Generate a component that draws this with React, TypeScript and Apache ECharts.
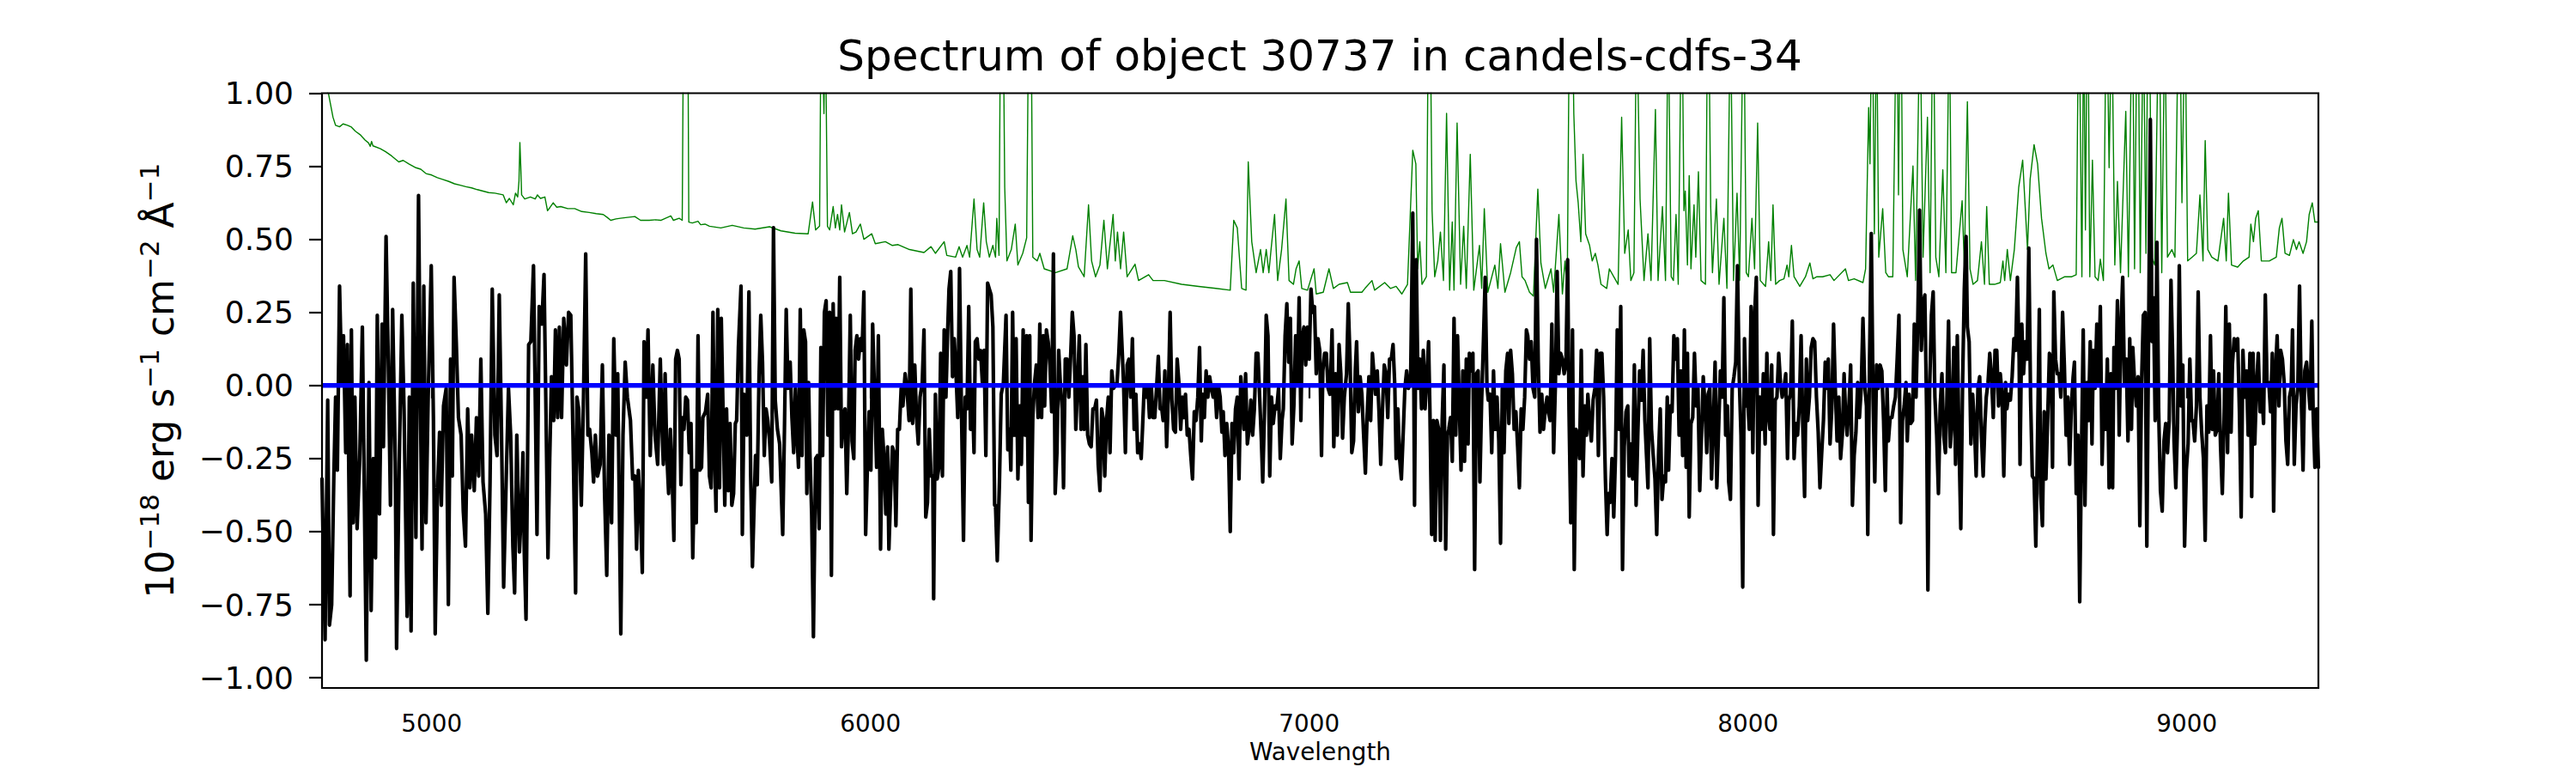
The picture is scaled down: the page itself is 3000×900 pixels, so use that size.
import React, { useEffect, useRef } from "react";
import * as echarts from "echarts";

const TITLE = "Spectrum of object 30737 in candels-cdfs-34";
const X_NAME = "Wavelength";
const X_MIN = 4750;
const X_MAX = 9300;
const Y_MIN = -1.035;
const Y_MAX = 1.0;
const xTicks = [5000, 6000, 7000, 8000, 9000];
const yTicks = [-1, -0.75, -0.5, -0.25, 0, 0.25, 0.5, 0.75, 1];

// Observed flux (black), [wavelength, flux]
const fluxA = [[4750,-0.32],[4757,-0.87],[4763,-0.05],[4767,-0.82],[4772,-0.75],[4777,-0.31],[4781,-0.04],[4785,-0.29],[4790,0.34],[4795,0.01],[4799,0.17],[4804,-0.23],[4808,0.14],[4814,-0.72],[4817,0.19],[4821,-0.47],[4825,-0.04],[4830,-0.49],[4836,-0.25],[4842,0.20],[4847,-0.44],[4851,-0.94],[4857,0.01],[4862,-0.77],[4867,-0.25],[4872,-0.59],[4876,0.24],[4881,-0.44],[4887,0.21],[4890,-0.21],[4896,0.51],[4901,0.09],[4906,-0.41],[4911,0.26],[4917,-0.26],[4920,-0.90],[4926,-0.27],[4932,0.24],[4937,-0.08],[4944,-0.79],[4949,-0.04],[4953,-0.84],[4958,0.35],[4964,-0.52],[4970,0.65],[4975,-0.15],[4978,-0.56],[4982,0.34],[4987,-0.47],[4992,-0.04],[4999,0.41],[5004,-0.12],[5008,-0.85],[5013,-0.37],[5018,-0.16],[5022,-0.41],[5027,-0.07],[5033,-0.01],[5038,-0.75],[5043,0.09],[5047,-0.31],[5051,0.37],[5056,0.15],[5061,-0.11],[5067,-0.17],[5072,-0.43],[5077,-0.55],[5082,-0.08],[5087,-0.35],[5091,-0.17],[5097,-0.36],[5102,-0.11],[5107,-0.31],[5112,0.09],[5117,-0.33],[5123,-0.44],[5128,-0.78],[5133,-0.33],[5138,0.33],[5144,-0.17],[5149,-0.24],[5154,0.31],[5159,-0.15],[5164,-0.69],[5170,-0.31],[5175,-0.01],[5180,-0.17],[5185,-0.55],[5189,-0.71],[5194,-0.17],[5200,-0.57],[5204,-0.44],[5208,-0.23],[5211,-0.57],[5215,-0.80],[5221,0.14],[5226,0.15],[5232,0.41],[5236,-0.04],[5240,-0.51],[5245,0.27],[5251,0.21],[5256,0.38],[5260,-0.04],[5265,-0.59],[5269,-0.25],[5273,0.03],[5278,-0.12],[5282,0.19],[5287,-0.11],[5291,0.20],[5296,-0.11],[5301,0.23],[5307,0.07],[5312,0.25],[5317,0.24],[5322,-0.17],[5328,-0.71],[5331,-0.04],[5335,-0.08],[5341,-0.41],[5346,-0.04],[5351,0.45],[5356,-0.17],[5360,-0.15],[5365,-0.23],[5369,-0.33],[5373,-0.17],[5378,-0.31],[5384,-0.27],[5389,0.07],[5394,-0.37],[5399,-0.65],[5404,-0.17],[5410,-0.47],[5415,0.16],[5420,-0.17],[5424,0.04],[5431,-0.85],[5436,-0.17],[5441,0.08],[5446,-0.04],[5453,-0.12],[5458,-0.32],[5463,-0.31],[5467,-0.56],[5471,-0.29],[5476,-0.44],[5480,-0.64],[5484,0.15],[5489,-0.04],[5493,0.19],[5498,-0.24],[5504,0.07],[5509,-0.17],[5515,-0.27],[5521,0.09]];
const fluxB = [[5525,-0.15],[5528,-0.27],[5532,0.04],[5536,-0.24],[5540,-0.37],[5544,-0.15],[5548,-0.31],[5552,-0.53],[5556,0.09],[5560,0.12],[5564,0.09],[5568,-0.34],[5571,-0.11],[5575,-0.15],[5579,-0.04],[5583,-0.05],[5587,-0.23],[5591,-0.13],[5595,-0.59],[5599,-0.29],[5603,-0.47],[5607,0.17],[5611,-0.29],[5615,-0.28],[5618,-0.11],[5624,-0.09],[5629,-0.03],[5633,-0.31],[5637,-0.35],[5641,0.25],[5645,-0.25],[5648,-0.43],[5652,0.26],[5656,-0.35],[5660,0.23],[5664,-0.08],[5668,-0.41],[5672,-0.08],[5676,-0.36],[5680,-0.13],[5684,-0.41],[5688,-0.37],[5692,-0.13],[5695,-0.12],[5699,0.13],[5705,0.34],[5708,-0.51],[5712,-0.03],[5718,-0.17],[5723,0.32],[5727,-0.31],[5731,-0.62],[5735,-0.40],[5738,-0.24],[5742,-0.34],[5746,0.03],[5750,0.24],[5754,0.08],[5758,-0.24],[5762,-0.08],[5766,-0.12],[5770,-0.19],[5775,-0.33],[5779,0.54],[5783,-0.05],[5788,-0.15],[5793,-0.20],[5800,-0.51],[5804,-0.15],[5808,0.26],[5812,-0.01],[5817,0.08],[5821,-0.11],[5825,-0.23],[5829,-0.01],[5832,-0.15],[5836,-0.28],[5840,0.26],[5844,-0.24],[5848,0.19],[5852,0.15],[5855,-0.37],[5859,0.01],[5862,-0.23],[5866,-0.44],[5870,-0.86],[5875,-0.25],[5879,-0.24],[5883,-0.49],[5887,0.13],[5891,-0.24],[5895,0.25],[5899,0.29],[5903,-0.17],[5907,0.25],[5911,-0.65],[5915,0.28],[5919,-0.08],[5922,0.23],[5926,-0.08],[5930,0.37],[5934,-0.21],[5938,-0.11],[5942,-0.08],[5946,-0.37],[5950,-0.13],[5954,0.24],[5958,-0.19],[5962,-0.25],[5965,0.12],[5969,0.17],[5973,0.09],[5977,0.16],[5981,0.12],[5985,0.32],[5989,-0.51],[5993,-0.28],[5997,-0.09],[6001,-0.29],[6005,0.21],[6009,-0.01],[6014,-0.28],[6018,0.17],[6023,-0.56],[6027,-0.15],[6031,-0.25],[6035,-0.44],[6039,-0.21],[6042,-0.56],[6046,-0.37],[6050,-0.21],[6054,-0.23],[6058,-0.48],[6062,-0.15],[6066,-0.15],[6070,-0.01],[6074,-0.07],[6079,0.04],[6083,-0.01],[6088,-0.12],[6092,0.33],[6096,-0.13],[6101,0.07],[6105,-0.11],[6109,-0.20],[6113,-0.04],[6118,0.01],[6122,0.19],[6126,-0.45],[6130,-0.40],[6134,-0.15],[6138,-0.31],[6142,-0.31],[6144,-0.73],[6148,-0.03],[6152,-0.32],[6156,-0.28],[6160,0.11],[6164,-0.31],[6168,0.19],[6172,-0.04],[6176,0.19],[6179,0.33],[6183,0.39],[6187,0.03],[6191,0.16],[6195,0.04],[6199,-0.11],[6203,0.40],[6207,-0.04],[6212,-0.53],[6216,-0.04],[6220,-0.08],[6224,0.27],[6228,-0.15],[6232,-0.01],[6236,-0.23],[6239,0.15],[6243,0.16],[6247,0.09],[6251,0.12],[6255,0.01],[6259,0.12],[6263,-0.24],[6267,0.35],[6271,0.33],[6275,0.31],[6279,0.20],[6283,-0.41]];
const fluxC = [[6285,-0.41],[6289,-0.60],[6294,-0.33],[6298,-0.03],[6303,0.01],[6309,0.24],[6313,-0.22],[6317,-0.15],[6320,-0.29],[6324,0.25],[6328,-0.17],[6332,0.16],[6336,-0.32],[6340,-0.07],[6344,-0.27],[6348,0.19],[6352,-0.17],[6356,0.17],[6360,-0.40],[6363,0.17],[6366,-0.53],[6370,-0.11],[6374,0.01],[6378,0.07],[6382,-0.11],[6386,0.21],[6390,-0.11],[6394,0.17],[6397,-0.07],[6401,0.19],[6405,0.15],[6409,0.07],[6413,-0.09],[6417,0.45],[6421,-0.37],[6425,-0.23],[6429,0.12],[6433,0.0],[6437,-0.08],[6440,-0.35],[6444,0.09],[6448,0.09],[6452,-0.04],[6456,0.09],[6460,0.25],[6464,0.17],[6468,-0.15],[6472,0.0],[6476,0.17],[6480,-0.15],[6484,0.03],[6487,-0.15],[6491,0.14],[6495,-0.17],[6499,-0.20],[6503,-0.21],[6507,-0.08],[6511,-0.08],[6515,-0.05],[6519,-0.27],[6523,-0.36],[6527,-0.08],[6530,-0.11],[6534,-0.31],[6538,-0.12],[6542,-0.04],[6546,-0.23],[6550,0.05],[6554,-0.01],[6558,0.0],[6562,0.01],[6566,0.11],[6570,0.25],[6574,0.11],[6577,0.0],[6581,-0.23],[6585,0.07],[6589,0.09],[6593,-0.04],[6597,0.16],[6601,-0.15],[6605,-0.03],[6609,-0.23],[6613,-0.20],[6617,-0.25],[6620,-0.15],[6624,0.0],[6628,-0.04],[6632,0.0],[6636,-0.11],[6640,0.0],[6644,-0.11],[6648,-0.11],[6652,-0.01],[6656,0.10],[6660,-0.08],[6664,-0.08],[6667,-0.12],[6671,0.05],[6675,-0.21],[6679,-0.03],[6683,0.25],[6687,-0.05],[6691,-0.15],[6695,-0.16],[6699,0.09],[6703,0.01],[6707,-0.15],[6711,-0.04],[6714,-0.11],[6718,-0.03],[6722,-0.17],[6726,-0.15],[6730,-0.24],[6734,-0.32],[6738,-0.09],[6742,-0.12],[6746,-0.04],[6750,0.13],[6754,-0.19],[6757,-0.03],[6761,-0.11],[6765,0.05],[6769,-0.04],[6773,0.03],[6777,-0.01],[6781,-0.04],[6785,0.0],[6789,-0.11],[6793,0.0],[6797,-0.04],[6801,-0.16],[6804,-0.09],[6808,-0.24],[6812,-0.13],[6816,-0.21],[6820,-0.50],[6824,-0.13],[6828,-0.23],[6832,-0.08],[6836,-0.04],[6840,-0.32],[6844,0.03],[6848,-0.04],[6851,-0.15],[6855,0.04],[6859,-0.20],[6863,-0.15],[6867,-0.05],[6871,-0.17],[6875,-0.08],[6879,0.11],[6883,0.11],[6887,-0.04],[6891,-0.19],[6894,-0.33],[6898,-0.09],[6902,0.24],[6906,0.17],[6910,-0.31],[6914,-0.04],[6918,-0.13],[6922,-0.07],[6926,-0.08],[6930,-0.01],[6934,-0.25],[6938,-0.12],[6941,-0.08],[6945,0.17],[6949,0.28],[6953,0.08],[6957,0.23],[6961,-0.20],[6965,-0.07],[6969,0.17],[6973,0.01],[6977,0.30],[6981,-0.12],[6984,0.17],[6988,0.20],[6992,0.07],[6996,0.20],[7000,0.09],[7004,0.33],[7008,0.25],[7012,0.27],[7016,0.04],[7020,0.16],[7024,0.12],[7028,-0.24],[7031,0.05],[7035,0.11],[7039,0.11],[7043,-0.01],[7047,-0.03]];
const fluxD = [[7048,-0.01],[7052,0.19],[7056,-0.21],[7060,0.04],[7064,-0.17],[7068,0.14],[7072,0.04],[7076,-0.18],[7080,-0.04],[7085,0.04],[7089,0.28],[7093,0.09],[7097,-0.23],[7101,-0.19],[7105,0.05],[7108,0.15],[7112,-0.09],[7116,0.03],[7120,-0.03],[7124,-0.17],[7128,-0.30],[7132,-0.10],[7136,0.03],[7140,-0.12],[7144,0.11],[7148,0.03],[7151,-0.03],[7155,0.05],[7159,-0.09],[7163,-0.27],[7167,-0.08],[7171,0.07],[7175,0.04],[7179,-0.11],[7183,0.09],[7187,0.09],[7191,0.14],[7195,0.0],[7198,-0.25],[7202,-0.08],[7206,-0.25],[7210,-0.32],[7214,-0.17],[7218,-0.01],[7222,0.05],[7226,-0.01],[7231,0.01],[7236,0.59],[7240,-0.41],[7244,0.43],[7248,-0.01],[7252,0.09],[7256,-0.08],[7260,0.12],[7264,-0.08],[7268,0.03],[7272,0.15],[7275,-0.08],[7279,-0.51],[7283,-0.12],[7287,-0.53],[7291,-0.12],[7295,-0.15],[7299,-0.53],[7303,-0.12],[7307,0.07],[7311,-0.56],[7315,-0.17],[7318,-0.15],[7322,-0.11],[7326,-0.26],[7330,0.23],[7334,-0.17],[7338,0.17],[7342,-0.07],[7346,-0.29],[7350,0.05],[7354,-0.26],[7358,0.09],[7362,-0.20],[7365,0.11],[7369,0.05],[7373,0.11],[7377,-0.63],[7381,0.04],[7385,0.05],[7389,-0.33],[7393,-0.05],[7397,0.15],[7401,0.37],[7405,0.0],[7408,-0.05],[7412,-0.03],[7416,-0.23],[7420,0.05],[7424,-0.15],[7428,-0.04],[7432,-0.19],[7436,-0.54],[7440,-0.01],[7444,-0.23],[7448,0.05],[7452,0.11],[7455,-0.13],[7459,0.12],[7463,0.04],[7467,-0.15],[7471,-0.09],[7475,-0.21],[7479,-0.35],[7483,-0.08],[7487,-0.15],[7491,-0.04],[7495,0.19],[7498,0.17],[7502,0.09],[7506,0.15],[7510,-0.01],[7514,-0.04],[7518,0.50],[7522,0.08],[7526,-0.16],[7530,-0.03],[7534,-0.15],[7538,-0.08],[7542,-0.04],[7545,-0.09],[7549,-0.12],[7553,0.21],[7557,-0.23],[7561,0.0],[7565,0.39],[7569,0.04],[7573,0.11],[7577,0.09],[7581,0.04],[7585,0.07],[7589,0.43],[7592,-0.08],[7596,-0.47],[7600,0.19],[7604,-0.63],[7608,-0.15],[7612,-0.17],[7616,-0.25],[7620,0.12],[7624,-0.31],[7628,-0.07],[7632,-0.17],[7635,-0.03],[7639,-0.12],[7643,-0.19],[7647,-0.05],[7651,-0.01],[7655,0.12],[7659,-0.24],[7663,0.11],[7667,0.11],[7671,-0.04],[7675,-0.32],[7679,-0.51],[7682,-0.37],[7686,-0.40],[7690,-0.25],[7694,-0.45],[7698,-0.24],[7702,0.19],[7706,-0.15],[7710,0.27],[7714,-0.63],[7718,-0.21],[7722,-0.09],[7726,-0.07],[7729,-0.31],[7733,-0.20],[7737,-0.32],[7741,0.07],[7745,-0.41],[7749,-0.16],[7753,0.05],[7757,-0.05],[7761,0.12],[7765,-0.12],[7769,-0.25],[7772,-0.35],[7776,0.16],[7780,-0.15],[7784,-0.24],[7788,-0.32],[7792,-0.51],[7796,-0.24],[7800,-0.08],[7804,-0.39],[7808,-0.31]];
const fluxE = [[7812,-0.33],[7816,-0.04],[7819,-0.29],[7823,-0.07],[7827,-0.09],[7831,0.17],[7835,0.09],[7839,0.16],[7843,-0.17],[7847,0.05],[7851,-0.24],[7855,0.19],[7859,-0.28],[7862,0.11],[7866,-0.45],[7870,-0.13],[7874,-0.11],[7878,0.11],[7882,-0.07],[7886,-0.01],[7890,-0.36],[7894,-0.17],[7898,0.03],[7902,-0.07],[7906,-0.23],[7909,-0.03],[7913,-0.01],[7917,-0.32],[7921,-0.13],[7925,0.08],[7929,-0.35],[7933,-0.15],[7937,0.05],[7941,-0.04],[7945,0.30],[7949,-0.17],[7953,-0.07],[7956,-0.33],[7960,-0.39],[7964,-0.01],[7968,0.03],[7972,0.08],[7976,0.41],[7980,0.03],[7984,-0.17],[7988,-0.69],[7992,0.16],[7996,-0.07],[7999,-0.04],[8003,-0.15],[8007,0.27],[8011,-0.23],[8015,0.24],[8019,0.37],[8023,-0.41],[8027,-0.04],[8031,-0.15],[8035,0.04],[8039,-0.20],[8043,0.11],[8046,-0.09],[8050,-0.15],[8054,0.07],[8058,-0.51],[8062,-0.05],[8066,-0.04],[8070,0.11],[8074,0.01],[8078,-0.04],[8082,-0.01],[8086,0.04],[8090,-0.25],[8093,-0.05],[8097,-0.03],[8101,0.22],[8105,-0.25],[8109,-0.13],[8113,-0.17],[8117,-0.07],[8121,0.17],[8125,-0.15],[8129,-0.38],[8133,0.09],[8136,-0.12],[8140,-0.04],[8144,0.13],[8148,0.16],[8152,0.15],[8156,-0.04],[8160,-0.16],[8164,-0.35],[8168,-0.23],[8172,-0.12],[8176,0.08],[8180,-0.01],[8183,0.09],[8187,-0.20],[8191,-0.08],[8195,0.21],[8199,-0.01],[8203,-0.19],[8207,-0.04],[8211,-0.25],[8215,-0.17],[8219,0.04],[8223,-0.12],[8226,-0.17],[8230,-0.07],[8234,0.07],[8238,-0.41],[8242,-0.24],[8246,-0.16],[8250,0.01],[8254,-0.11],[8258,-0.01],[8262,0.23],[8266,0.0],[8270,-0.07],[8273,-0.51],[8277,0.09],[8281,0.52],[8285,-0.04],[8289,-0.33],[8293,0.07],[8297,-0.01],[8301,0.07],[8305,0.05],[8309,-0.12],[8313,-0.36],[8317,-0.01],[8320,-0.19],[8324,-0.11],[8328,-0.11],[8332,-0.07],[8336,-0.04],[8340,0.09],[8344,0.24],[8348,-0.47],[8352,-0.12],[8356,-0.07],[8360,0.01],[8363,-0.19],[8367,-0.03],[8371,-0.13],[8375,-0.12],[8379,0.21],[8383,-0.04],[8387,0.23],[8391,0.60],[8395,0.12],[8399,0.28],[8403,0.31],[8407,-0.08],[8410,-0.70],[8414,-0.01],[8418,0.24],[8422,0.32],[8426,-0.04],[8430,-0.17],[8434,-0.37],[8438,-0.07],[8442,0.04],[8446,-0.17],[8450,-0.23],[8453,-0.07],[8457,0.22],[8461,-0.21],[8465,-0.12],[8469,0.13],[8473,-0.27],[8477,0.17],[8481,-0.20],[8485,-0.49],[8489,0.0],[8493,0.33],[8497,0.51],[8500,0.20],[8504,0.15],[8508,-0.20],[8512,-0.03],[8516,-0.13],[8520,-0.31],[8524,-0.01],[8528,0.03],[8532,-0.17],[8536,-0.31],[8540,-0.13],[8543,-0.04],[8547,0.01],[8551,0.11],[8555,0.03],[8559,-0.11],[8563,0.12],[8567,0.12],[8571,-0.07]];
const fluxF = [[8575,0.04],[8579,-0.03],[8583,-0.31],[8587,0.01],[8590,-0.08],[8594,-0.03],[8598,-0.05],[8602,0.03],[8606,0.16],[8610,0.12],[8614,0.37],[8618,0.09],[8620,-0.27],[8624,0.21],[8628,0.04],[8632,0.15],[8636,0.09],[8640,0.47],[8644,-0.04],[8648,-0.31],[8652,-0.32],[8656,-0.55],[8660,-0.17],[8664,0.26],[8667,-0.37],[8671,-0.48],[8675,-0.09],[8679,-0.32],[8683,-0.11],[8687,0.11],[8691,0.09],[8694,-0.28],[8697,0.32],[8701,0.09],[8705,0.04],[8709,0.04],[8713,-0.04],[8717,0.25],[8721,0.07],[8725,-0.17],[8729,-0.04],[8733,-0.27],[8737,-0.07],[8741,0.03],[8744,0.08],[8748,-0.37],[8752,-0.17],[8756,-0.74],[8760,-0.23],[8764,0.19],[8768,-0.41],[8772,0.01],[8776,-0.12],[8780,0.15],[8784,-0.20],[8787,0.12],[8791,-0.01],[8795,0.21],[8799,0.01],[8803,0.27],[8807,-0.27],[8811,-0.01],[8815,-0.15],[8819,0.09],[8823,-0.35],[8827,0.04],[8831,-0.35],[8834,0.13],[8838,-0.01],[8842,0.29],[8846,-0.17],[8850,0.20],[8854,0.37],[8858,0.0],[8862,0.09],[8866,-0.19],[8870,0.16],[8874,-0.15],[8877,0.13],[8881,0.01],[8885,-0.07],[8889,0.03],[8893,-0.48],[8897,0.01],[8901,0.24],[8905,0.25],[8909,-0.55],[8913,0.17],[8917,0.91],[8921,0.15],[8924,0.30],[8928,-0.12],[8932,0.49],[8936,-0.09],[8940,-0.36],[8944,-0.43],[8948,-0.19],[8952,-0.13],[8956,-0.23],[8960,-0.12],[8964,0.36],[8968,0.09],[8971,-0.19],[8975,-0.35],[8979,-0.13],[8983,0.41],[8987,-0.07],[8991,0.07],[8995,-0.55],[8999,-0.29],[9003,-0.20],[9007,0.09],[9011,-0.12],[9014,-0.12],[9018,-0.19],[9022,-0.07],[9026,0.32],[9030,-0.04],[9034,-0.16],[9038,-0.25],[9042,-0.53],[9046,-0.07],[9050,-0.16],[9054,0.17],[9058,-0.15],[9061,0.05],[9065,-0.17],[9069,-0.15],[9073,0.04],[9077,-0.21],[9081,-0.37],[9085,-0.12],[9089,0.27],[9093,-0.23],[9097,0.21],[9101,-0.16],[9104,0.07],[9108,0.16],[9112,0.12],[9116,0.16],[9120,-0.09],[9124,-0.45],[9128,0.12],[9132,-0.04],[9136,0.05],[9140,-0.17],[9144,0.11],[9148,-0.38],[9151,0.11],[9155,-0.20],[9159,0.0],[9163,0.11],[9167,-0.09],[9171,-0.01],[9175,-0.13],[9179,0.31],[9183,0.0],[9187,0.01],[9191,-0.09],[9195,0.11],[9198,-0.43],[9202,0.04],[9206,0.17],[9210,-0.07],[9214,0.12],[9218,0.09],[9222,0.01],[9226,-0.19],[9230,-0.27],[9234,-0.04],[9238,-0.01],[9241,0.19],[9245,-0.27],[9249,-0.07],[9253,-0.01],[9257,0.34],[9261,-0.04],[9265,-0.29],[9269,0.05],[9273,0.08],[9277,0.0],[9281,-0.08],[9285,0.22],[9288,-0.09],[9292,-0.28],[9296,-0.08],[9300,-0.28]];

// Sky / noise spectrum (green), [wavelength, value]
const skyA = [[4750,1.08],[4757,1.02],[4765,0.997],[4775,0.918],[4781,0.89],[4790,0.885],[4798,0.895],[4808,0.89],[4817,0.884],[4826,0.87],[4837,0.858],[4848,0.84],[4856,0.83],[4860,0.818],[4863,0.835],[4866,0.82],[4883,0.81],[4895,0.80],[4909,0.785],[4925,0.765],[4935,0.77],[4948,0.758],[4964,0.745],[4975,0.74],[4987,0.725],[5000,0.72],[5013,0.711],[5025,0.705],[5039,0.698],[5052,0.69],[5065,0.685],[5078,0.68],[5091,0.676],[5104,0.67],[5117,0.665],[5130,0.66],[5144,0.658],[5163,0.652],[5170,0.625],[5177,0.64],[5186,0.618],[5191,0.658],[5196,0.645],[5199,0.70],[5201,0.831],[5203,0.75],[5205,0.652],[5212,0.638],[5225,0.645],[5236,0.638],[5241,0.652],[5248,0.64],[5258,0.645],[5264,0.598],[5270,0.61],[5277,0.625],[5285,0.61],[5294,0.612],[5310,0.605],[5326,0.605],[5342,0.595],[5359,0.592],[5375,0.588],[5391,0.585],[5400,0.575],[5408,0.565],[5420,0.57],[5430,0.572],[5446,0.575],[5463,0.578],[5476,0.565],[5496,0.565],[5510,0.567]];
const skyB = [[5522,0.565],[5545,0.58],[5551,0.565],[5564,0.572],[5571,0.565],[5574,1.3],[5579,1.6],[5584,1.2],[5586,0.559],[5594,0.556],[5607,0.562],[5613,0.55],[5623,0.552],[5633,0.545],[5659,0.539],[5685,0.548],[5711,0.539],[5737,0.535],[5770,0.543],[5796,0.529],[5828,0.521],[5858,0.519],[5868,0.628],[5875,0.532],[5884,0.545],[5888,1.4],[5894,0.93],[5897,1.3],[5902,0.545],[5907,0.532],[5915,0.612],[5920,0.539],[5925,0.585],[5930,0.532],[5934,0.618],[5941,0.525],[5952,0.592],[5959,0.519],[5967,0.525],[5977,0.552],[5985,0.50],[6003,0.519],[6011,0.485],[6034,0.492],[6050,0.479],[6063,0.482],[6089,0.465],[6122,0.455],[6138,0.475],[6148,0.452],[6168,0.492],[6174,0.445],[6194,0.439],[6202,0.475],[6210,0.439],[6220,0.479],[6226,0.439],[6236,0.638],[6243,0.465],[6249,0.439],[6258,0.625],[6264,0.492],[6271,0.439],[6279,0.479],[6285,0.439]];
const skyC = [[6288,0.572],[6293,0.445],[6296,1.2],[6300,1.8],[6303,1.2],[6306,0.678],[6311,0.426],[6321,0.465],[6330,0.552],[6336,0.412],[6347,0.452],[6356,0.505],[6360,1.2],[6363,1.6],[6367,1.1],[6370,0.439],[6380,0.426],[6386,0.452],[6396,0.399],[6422,0.386],[6448,0.399],[6461,0.512],[6468,0.465],[6474,0.406],[6487,0.372],[6497,0.618],[6504,0.426],[6513,0.372],[6523,0.412],[6532,0.565],[6540,0.399],[6553,0.585],[6558,0.426],[6563,0.525],[6570,0.399],[6577,0.525],[6585,0.372],[6603,0.415],[6611,0.359],[6634,0.379],[6644,0.359],[6670,0.359],[6709,0.346],[6748,0.339],[6787,0.332],[6820,0.326],[6828,0.565],[6836,0.539],[6846,0.332],[6856,0.326],[6861,0.765],[6869,0.492],[6879,0.386],[6889,0.465],[6895,0.386],[6902,0.465],[6908,0.386],[6913,0.465],[6921,0.585],[6928,0.359],[6937,0.465],[6947,0.638],[6954,0.359],[6964,0.346],[6970,0.399],[6977,0.426],[6983,0.332],[6996,0.326],[7011,0.399],[7016,0.313],[7032,0.319]];
const skyD = [[7045,0.399],[7055,0.332],[7068,0.346],[7087,0.352],[7094,0.319],[7120,0.319],[7127,0.332],[7143,0.359],[7149,0.326],[7172,0.352],[7185,0.332],[7198,0.339],[7211,0.313],[7224,0.346],[7236,0.805],[7243,0.758],[7247,0.399],[7252,0.492],[7257,0.346],[7267,0.372],[7271,1.2],[7275,1.4],[7280,0.598],[7286,0.372],[7293,0.426],[7299,0.525],[7306,0.359],[7313,0.931],[7320,0.326],[7326,0.559],[7330,0.326],[7337,0.898],[7345,0.346],[7352,0.545],[7358,0.332],[7367,0.791],[7375,0.326],[7388,0.479],[7393,0.332],[7399,0.605],[7407,0.319],[7423,0.412],[7430,0.332],[7436,0.485],[7446,0.319],[7459,0.386],[7472,0.472],[7479,0.492],[7485,0.372],[7492,0.359],[7502,0.319],[7511,0.306],[7521,0.672],[7528,0.419],[7538,0.332],[7551,0.399],[7557,0.319],[7569,0.585],[7577,0.313],[7583,0.426],[7588,0.332],[7593,1.3],[7598,1.5],[7603,0.93],[7608,0.70],[7613,0.625],[7619,0.492],[7624,0.791],[7630,0.519],[7639,0.479],[7645,0.426],[7652,0.452],[7658,0.412],[7665,0.346],[7678,0.332],[7684,0.399],[7694,0.372],[7704,0.346],[7712,0.918],[7719,0.452],[7727,0.532],[7733,0.359],[7740,0.386],[7746,1.3],[7754,0.638],[7763,0.359],[7772,0.519],[7779,0.359],[7789,0.944],[7795,0.359]];
const skyE = [[7805,0.612],[7812,0.359],[7818,1.3],[7825,0.372],[7830,0.359],[7836,0.585],[7841,0.346],[7849,1.4],[7854,0.598],[7857,0.665],[7862,0.412],[7866,0.718],[7870,0.399],[7877,0.618],[7881,0.439],[7887,0.731],[7893,0.359],[7903,0.346],[7909,1.5],[7915,0.612],[7919,0.386],[7928,0.638],[7934,0.346],[7945,0.572],[7952,0.332],[7960,1.3],[7967,0.359],[7975,0.658],[7981,0.359],[7990,1.4],[7996,0.386],[8001,0.372],[8009,0.572],[8015,0.399],[8022,0.898],[8028,0.359],[8040,0.339],[8047,0.492],[8052,0.359],[8057,0.618],[8063,0.346],[8072,0.359],[8082,0.365],[8089,0.412],[8093,0.372],[8099,0.479],[8105,0.372],[8118,0.339],[8131,0.372],[8141,0.419],[8148,0.365],[8157,0.372],[8170,0.372],[8187,0.379],[8196,0.359],[8222,0.399],[8229,0.359],[8242,0.365],[8262,0.352],[8268,0.399],[8275,0.951],[8278,0.758],[8283,1.4],[8288,0.519],[8293,1.3],[8298,0.439],[8307,0.605],[8314,0.386],[8320,0.372],[8330,0.372],[8339,1.4],[8343,0.652],[8348,1.5],[8353,0.465],[8363,0.372],[8376,0.751],[8382,0.359],[8392,1.3],[8399,0.439],[8409,0.918],[8415,0.386],[8422,1.4],[8428,0.439],[8435,0.372],[8444,0.738],[8451,0.386],[8459,1.3],[8464,0.386],[8474,0.386],[8488,0.632],[8493,0.412],[8500,0.971],[8506,0.399],[8513,0.346],[8523,0.359],[8532,0.492],[8539,0.346],[8544,0.612],[8550,0.346]];
const skyF = [[8562,0.346],[8575,0.352],[8581,0.426],[8585,0.359],[8591,0.465],[8598,0.359],[8607,0.465],[8617,0.678],[8626,0.771],[8637,0.465],[8643,0.705],[8652,0.824],[8660,0.758],[8669,0.572],[8679,0.452],[8686,0.399],[8695,0.412],[8705,0.359],[8722,0.372],[8738,0.372],[8748,0.379],[8754,1.4],[8761,0.372],[8765,1.3],[8769,0.532],[8774,1.5],[8779,0.372],[8785,0.771],[8791,0.372],[8798,0.359],[8803,0.432],[8810,0.359],[8817,1.4],[8823,0.745],[8829,1.3],[8836,0.412],[8842,0.698],[8849,0.386],[8861,0.938],[8867,0.372],[8876,1.4],[8881,0.399],[8888,1.5],[8894,0.386],[8901,1.3],[8907,0.452],[8913,1.6],[8920,0.439],[8927,0.412],[8937,1.4],[8943,0.386],[8950,1.3],[8956,0.439],[8966,0.465],[8973,0.439],[8983,1.5],[8989,0.625],[8996,1.3],[9002,0.426],[9012,0.439],[9022,0.452],[9030,0.652],[9037,0.426],[9042,0.838],[9048,0.465],[9057,0.439],[9071,0.426],[9084,0.572],[9090,0.426],[9095,0.658],[9102,0.412],[9116,0.405],[9129,0.426],[9142,0.439],[9146,0.552],[9152,0.492],[9157,0.572],[9163,0.598],[9170,0.426],[9188,0.426],[9204,0.439],[9211,0.539],[9217,0.572],[9224,0.452],[9234,0.445],[9243,0.499],[9250,0.465],[9256,0.492],[9265,0.452],[9273,0.492],[9279,0.585],[9286,0.625],[9292,0.559],[9299,0.559]];

// Zero reference line (blue)
const zeroLine = [[X_MIN, 0], [X_MAX, 0]];

const FONT = "DejaVu Sans";
const MINUS = "\u2212";

export default function App() {
  const ref = useRef<HTMLDivElement>(null);
  useEffect(() => {
    document.body.style.margin = "0";
    const el = ref.current;
    if (!el) return;
    const chart = echarts.init(el, null, { renderer: "svg" });
    const flux = [...fluxA, ...fluxB, ...fluxC, ...fluxD, ...fluxE, ...fluxF];
    const sky = [...skyA, ...skyB, ...skyC, ...skyD, ...skyE, ...skyF];
    const fmt = (v: number) => (v < 0 ? MINUS : "") + Math.abs(v).toFixed(2);
    chart.setOption({
      animation: false,
      backgroundColor: "#ffffff",
      textStyle: { fontFamily: FONT },
      grid: {
        left: 375,
        right: 300,
        top: 108.5,
        bottom: 99,
        show: true,
        borderColor: "#000000",
        borderWidth: 2.2,
        backgroundColor: "transparent",
        z: 10,
      },
      xAxis: {
        type: "value",
        min: X_MIN,
        max: X_MAX,
        axisLine: { show: false },
        splitLine: { show: false },
        axisTick: {
          show: true,
          length: 15,
          customValues: xTicks,
          lineStyle: { color: "#000000", width: 2.2 },
        },
        axisLabel: {
          customValues: xTicks,
          fontSize: 27.8,
          fontFamily: FONT,
          color: "#000000",
          margin: 27,
          formatter: (v: number) => String(v),
        },
        name: X_NAME,
        nameLocation: "middle",
        nameGap: 60,
        nameTextStyle: { fontSize: 27.8, fontFamily: FONT, color: "#000000" },
      },
      yAxis: {
        type: "value",
        min: Y_MIN,
        max: Y_MAX,
        axisLine: { show: false },
        splitLine: { show: false },
        axisTick: {
          show: true,
          length: 15,
          customValues: yTicks,
          lineStyle: { color: "#000000", width: 2.2 },
        },
        axisLabel: {
          customValues: yTicks,
          fontSize: 36,
          fontFamily: FONT,
          color: "#000000",
          margin: 33,
          formatter: fmt,
        },
      },
      graphic: [
        {
          type: "text",
          x: 1537,
          y: 65,
          silent: true,
          style: {
            text: TITLE,
            fontSize: 50,
            fontFamily: FONT,
            fill: "#000000",
            align: "center",
            verticalAlign: "middle",
          },
        },
        {
          type: "text",
          x: 183,
          y: 443,
          rotation: Math.PI / 2,
          silent: true,
          style: {
            text:
              "{n|10}{s|" + MINUS + "18}{n| erg s}{s|" + MINUS + "1}{n| cm}{s|" + MINUS + "2}{n| Å}{s|" + MINUS + "1}",
            align: "center",
            verticalAlign: "middle",
            fill: "#000000",
            rich: {
              n: { fontSize: 44, fontFamily: FONT, fill: "#000000", lineHeight: 50, verticalAlign: "bottom" },
              s: { fontSize: 31, fontFamily: FONT, fill: "#000000", lineHeight: 15, verticalAlign: "top" },
            },
          },
        },
      ],
      series: [
        {
          name: "sky",
          type: "line",
          data: sky,
          showSymbol: false,
          symbol: "none",
          silent: true,
          clip: true,
          z: 1,
          lineStyle: { color: "#008000", width: 1.4, join: "round" },
        },
        {
          name: "flux",
          type: "line",
          data: flux,
          showSymbol: false,
          symbol: "none",
          silent: true,
          clip: true,
          z: 2,
          lineStyle: { color: "#000000", width: 4.2, join: "round", cap: "round" },
        },
        {
          name: "zero",
          type: "line",
          data: zeroLine,
          showSymbol: false,
          symbol: "none",
          silent: true,
          clip: true,
          z: 3,
          lineStyle: { color: "#0000ff", width: 5.6 },
        },
      ],
    });
    return () => chart.dispose();
  }, []);
  return <div ref={ref} style={{ width: 3000, height: 900 }} />;
}
